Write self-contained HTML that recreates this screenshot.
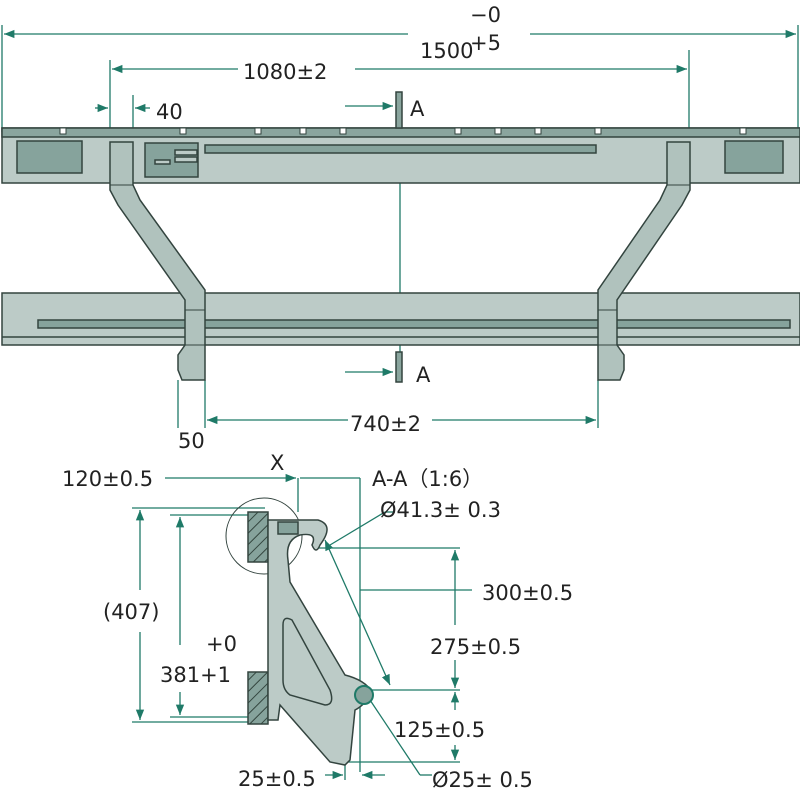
<!DOCTYPE html>
<html><head><style>body{margin:0;background:#fff}svg{display:block}text{font-family:"DejaVu Sans","Liberation Sans",sans-serif;fill:#222;font-size:21px}</style></head><body>
<svg width="800" height="800" viewBox="0 0 800 800" xmlns="http://www.w3.org/2000/svg">
<defs>
<marker id="ar" viewBox="0 0 10 10" refX="10" refY="5" markerWidth="8" markerHeight="8" orient="auto-start-reverse"><path d="M0,1 L10,5 L0,9z" fill="#1f7a68"/></marker>
<pattern id="hat" width="8" height="8" patternUnits="userSpaceOnUse" patternTransform="rotate(45)"><rect width="8" height="8" fill="#86a39c"/><line x1="0" y1="0" x2="0" y2="8" stroke="#34463f" stroke-width="2"/></pattern>
</defs>
<g stroke="#1f7a68" stroke-width="1.3" fill="none">
<line x1="2" y1="25" x2="2" y2="132"/><line x1="798" y1="25" x2="798" y2="132"/>
<line x1="4" y1="34" x2="408" y2="34" marker-start="url(#ar)"/><line x1="530" y1="34" x2="796" y2="34" marker-end="url(#ar)"/>
<line x1="110" y1="60" x2="110" y2="145"/><line x1="689" y1="50" x2="689" y2="145"/>
<line x1="112" y1="69" x2="238" y2="69" marker-start="url(#ar)"/><line x1="355" y1="69" x2="687" y2="69" marker-end="url(#ar)"/>
<line x1="133" y1="95" x2="133" y2="145"/>
<line x1="95" y1="108" x2="108" y2="108" marker-end="url(#ar)"/><line x1="150" y1="108" x2="135" y2="108" marker-end="url(#ar)"/>
<line x1="400" y1="95" x2="400" y2="380"/>
<line x1="345" y1="106" x2="393" y2="106" marker-end="url(#ar)"/>
<line x1="345" y1="372" x2="393" y2="372" marker-end="url(#ar)"/>
<line x1="178" y1="380" x2="178" y2="428"/><line x1="205" y1="380" x2="205" y2="428"/><line x1="598" y1="380" x2="598" y2="428"/>
<line x1="207" y1="420" x2="348" y2="420" marker-start="url(#ar)"/><line x1="432" y1="420" x2="596" y2="420" marker-end="url(#ar)"/>
<line x1="165" y1="478" x2="296" y2="478" marker-end="url(#ar)"/><line x1="298" y1="478" x2="298" y2="512"/>
<line x1="300" y1="478" x2="360" y2="478"/><line x1="360" y1="478" x2="360" y2="772"/>
<line x1="132" y1="508" x2="265" y2="508"/><line x1="132" y1="722" x2="260" y2="722"/>
<line x1="140" y1="510" x2="140" y2="590" marker-start="url(#ar)"/><line x1="140" y1="632" x2="140" y2="720" marker-end="url(#ar)"/>
<line x1="170" y1="515" x2="250" y2="515"/><line x1="170" y1="717" x2="250" y2="717"/>
<line x1="180" y1="517" x2="180" y2="645" marker-start="url(#ar)"/><line x1="180" y1="692" x2="180" y2="715" marker-end="url(#ar)"/>
<line x1="318" y1="548" x2="460" y2="548"/><line x1="360" y1="590" x2="472" y2="590"/>
<line x1="368" y1="690" x2="460" y2="690"/><line x1="345" y1="762" x2="460" y2="762"/>
<line x1="455" y1="550" x2="455" y2="625" marker-start="url(#ar)"/><line x1="455" y1="660" x2="455" y2="688" marker-end="url(#ar)"/>
<line x1="455" y1="692" x2="455" y2="710" marker-start="url(#ar)"/><line x1="455" y1="745" x2="455" y2="760" marker-end="url(#ar)"/>
<line x1="330" y1="545" x2="385" y2="512"/><line x1="385" y1="512" x2="395" y2="512"/>
<line x1="325" y1="540" x2="390" y2="685" marker-start="url(#ar)" marker-end="url(#ar)"/>
<line x1="370" y1="700" x2="420" y2="775"/><line x1="420" y1="775" x2="432" y2="775"/>
<line x1="345" y1="765" x2="345" y2="780"/>
<line x1="325" y1="775" x2="343" y2="775" marker-end="url(#ar)"/><line x1="385" y1="775" x2="362" y2="775" marker-end="url(#ar)"/>
</g>
<g stroke="#33443f" stroke-width="1.5">
<rect x="2" y="128" width="798" height="55" fill="#bccbc7"/>
<rect x="2" y="128" width="798" height="9" fill="#8aa59e"/>
<rect x="17" y="141" width="65" height="32" fill="#86a39c"/>
<rect x="725" y="141" width="58" height="32" fill="#86a39c"/>
<rect x="205" y="145" width="391" height="8" fill="#86a39c"/>
<rect x="145" y="143" width="53" height="34" fill="#86a39c"/>
<rect x="175" y="150" width="22" height="5" fill="#bccbc7"/><rect x="175" y="157" width="22" height="5" fill="#bccbc7"/><rect x="155" y="160" width="15" height="4" fill="#bccbc7"/>
<rect x="2" y="293" width="798" height="52" fill="#bccbc7"/>
<line x1="2" y1="337" x2="800" y2="337"/>
<rect x="38" y="320" width="752" height="8" fill="#86a39c"/>
<path d="M110,142 L133,142 L133,185 L140,200 L205,290 L205,380 L182,380 L178,370 L178,355 L185,345 L185,300 L118,205 L110,190Z" fill="#b0c2bd"/>
<path d="M690,142 L667,142 L667,185 L660,200 L598,290 L598,380 L620,380 L624,370 L624,355 L617,345 L617,300 L682,205 L690,190Z" fill="#b0c2bd"/>
<g fill="none" stroke-width="1"><path d="M110,185 L133,185 M185,310 L205,310 M185,345 L205,345 M667,185 L690,185 M598,310 L617,310 M598,345 L617,345"/></g>
<rect x="396" y="92" width="6" height="36" fill="#8aa59e"/>
<rect x="396" y="352" width="6" height="30" fill="#8aa59e"/>
</g>
<g fill="#fff" stroke="#33443f" stroke-width="1">
<rect x="60" y="128" width="6" height="6"/><rect x="180" y="128" width="6" height="6"/><rect x="255" y="128" width="6" height="6"/><rect x="300" y="128" width="6" height="6"/><rect x="340" y="128" width="6" height="6"/><rect x="455" y="128" width="6" height="6"/><rect x="495" y="128" width="6" height="6"/><rect x="535" y="128" width="6" height="6"/><rect x="595" y="128" width="6" height="6"/><rect x="740" y="128" width="6" height="6"/>
</g>
<g stroke="#33443f" stroke-width="1.5">
<circle cx="264" cy="536" r="38" fill="none" stroke-width="1"/>
<rect x="248" y="512" width="20" height="50" fill="url(#hat)"/>
<rect x="248" y="672" width="20" height="52" fill="url(#hat)"/>
<path d="M268,520 L318,520 Q335,525 320,545 Q316,555 312,545 Q318,532 300,535 Q285,540 288,560 L290,582 L345,675 Q365,680 372,692 Q365,705 355,710 L350,760 L345,765 L330,762 L280,705 L278,720 L268,720Z" fill="#bccbc7"/>
<path d="M283,625 Q283,615 292,620 L330,690 Q335,705 325,705 L290,695 Q283,690 283,680Z" fill="#bccbc7"/>
<rect x="278" y="522" width="20" height="12" fill="#86a39c"/>
<circle cx="364" cy="695" r="9" fill="#86a39c" stroke="#1f7a68" stroke-width="2"/>
</g>
<text x="470" y="22">−0</text>
<text x="420" y="58">1500</text><text x="470" y="50" font-size="18">+5</text>
<text x="243" y="79">1080±2</text>
<text x="156" y="119">40</text>
<text x="410" y="116">A</text>
<text x="416" y="382">A</text>
<text x="178" y="448">50</text>
<text x="350" y="431">740±2</text>
<text x="62" y="486">120±0.5</text>
<text x="270" y="470">X</text>
<text x="372" y="486">A-A（1:6）</text>
<text x="380" y="517">Ø41.3± 0.3</text>
<text x="103" y="619">(407)</text>
<text x="206" y="651">+0</text>
<text x="160" y="682">381+1</text>
<text x="482" y="600">300±0.5</text>
<text x="430" y="654">275±0.5</text>
<text x="394" y="737">125±0.5</text>
<text x="238" y="786">25±0.5</text>
<text x="432" y="787">Ø25± 0.5</text>
</svg>
</body></html>
